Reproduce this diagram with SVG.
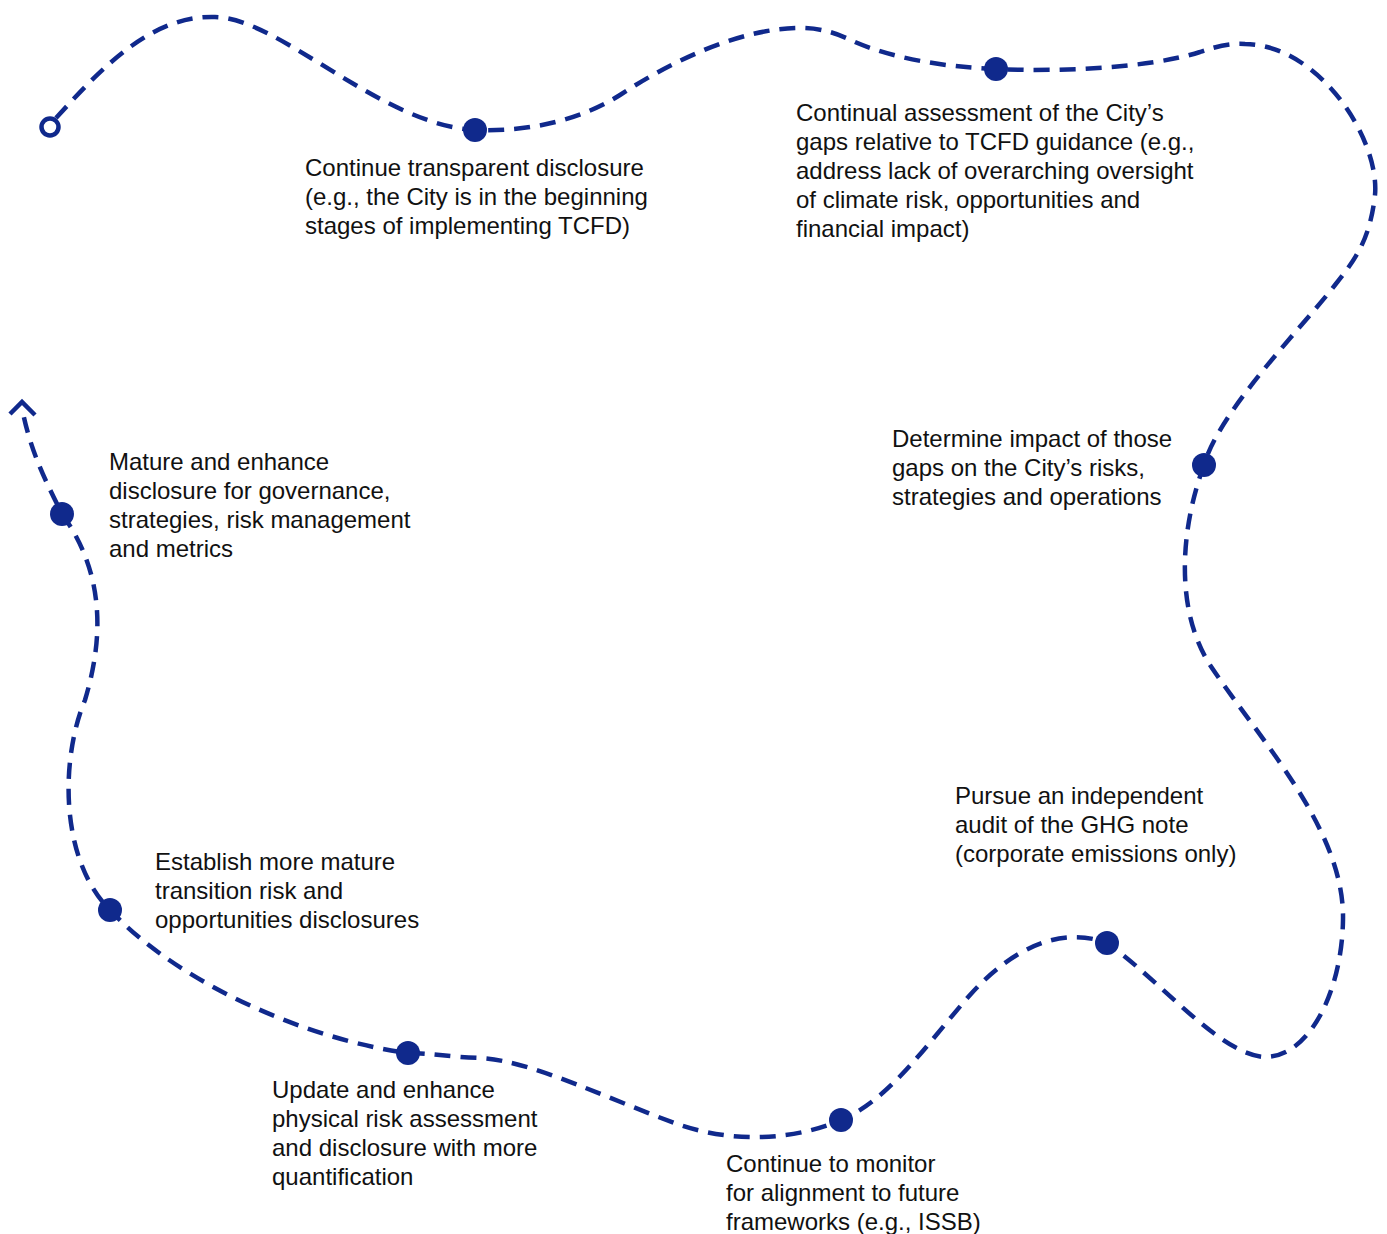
<svg xmlns="http://www.w3.org/2000/svg" width="1387" height="1234" viewBox="0 0 1387 1234">
<style>
.path{fill:none;stroke:#10298c;stroke-width:4.5;stroke-dasharray:16 10}
.dot{fill:#10298c}
.lbl{font-family:"Liberation Sans",Arial,sans-serif;font-size:24px;fill:#111}
</style>
<rect width="1387" height="1234" fill="#fff"/>
<g id="connectors">
<path class="path" d="M56,118 C100,70 150,15 215,17 C280,18 380,125 475,130 C530,132 580,120 620,95 C670,62 740,28 800,28 C825,28 840,35 855,42 C890,57 940,67 996,69 C1060,72 1150,68 1200,52 C1220,45 1235,43 1245,44 C1320,45 1380,140 1375,195 C1370,240 1355,260 1335,285 C1300,330 1220,410 1204,465 C1180,530 1175,610 1210,665 C1260,740 1345,830 1343,920 C1342,990 1310,1057 1265,1057 C1220,1055 1160,980 1107,943 C1060,925 1010,950 970,995 C930,1040 890,1100 841,1120 C800,1138 740,1145 680,1125 C610,1100 530,1060 480,1058 C450,1057 430,1053 408,1053 C310,1040 180,985 110,910 C60,860 60,760 85,700 C100,650 110,580 62,514 C45,480 30,450 22,408"/>
<polyline points="10,414 22,402 35,415" fill="none" stroke="#10298c" stroke-width="4.5"/>
</g>
<g id="start"><circle cx="50" cy="127" r="8.5" fill="#fff" stroke="#10298c" stroke-width="4.5"/></g>
<g id="n1"><circle class="dot" cx="475" cy="130" r="12"/>
<text class="lbl" x="305" y="176">Continue transparent disclosure</text>
<text class="lbl" x="305" y="205">(e.g., the City is in the beginning</text>
<text class="lbl" x="305" y="234">stages of implementing TCFD)</text></g>
<g id="n2"><circle class="dot" cx="996" cy="69" r="12"/>
<text class="lbl" x="796" y="121">Continual assessment of the City’s</text>
<text class="lbl" x="796" y="150">gaps relative to TCFD guidance (e.g.,</text>
<text class="lbl" x="796" y="179">address lack of overarching oversight</text>
<text class="lbl" x="796" y="208">of climate risk, opportunities and</text>
<text class="lbl" x="796" y="237">financial impact)</text></g>
<g id="n3"><circle class="dot" cx="1204" cy="465" r="12"/>
<text class="lbl" x="892" y="447">Determine impact of those</text>
<text class="lbl" x="892" y="476">gaps on the City’s risks,</text>
<text class="lbl" x="892" y="505">strategies and operations</text></g>
<g id="n4"><circle class="dot" cx="1107" cy="943" r="12"/>
<text class="lbl" x="955" y="804">Pursue an independent</text>
<text class="lbl" x="955" y="833">audit of the GHG note</text>
<text class="lbl" x="955" y="862">(corporate emissions only)</text></g>
<g id="n5"><circle class="dot" cx="841" cy="1120" r="12"/>
<text class="lbl" x="726" y="1172">Continue to monitor</text>
<text class="lbl" x="726" y="1201">for alignment to future</text>
<text class="lbl" x="726" y="1230">frameworks (e.g., ISSB)</text></g>
<g id="n6"><circle class="dot" cx="408" cy="1053" r="12"/>
<text class="lbl" x="272" y="1098">Update and enhance</text>
<text class="lbl" x="272" y="1127">physical risk assessment</text>
<text class="lbl" x="272" y="1156">and disclosure with more</text>
<text class="lbl" x="272" y="1185">quantification</text></g>
<g id="n7"><circle class="dot" cx="110" cy="910" r="12"/>
<text class="lbl" x="155" y="870">Establish more mature</text>
<text class="lbl" x="155" y="899">transition risk and</text>
<text class="lbl" x="155" y="928">opportunities disclosures</text></g>
<g id="n8"><circle class="dot" cx="62" cy="514" r="12"/>
<text class="lbl" x="109" y="470">Mature and enhance</text>
<text class="lbl" x="109" y="499">disclosure for governance,</text>
<text class="lbl" x="109" y="528">strategies, risk management</text>
<text class="lbl" x="109" y="557">and metrics</text></g>
</svg>
